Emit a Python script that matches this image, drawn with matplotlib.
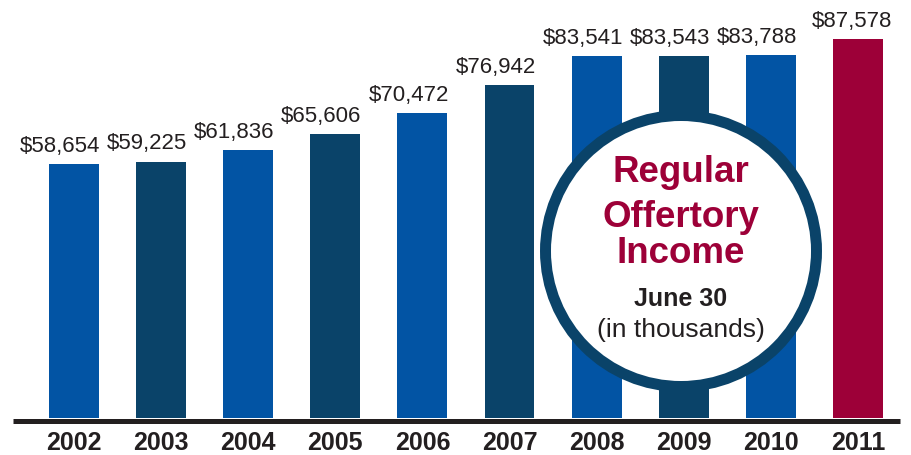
import matplotlib
matplotlib.use("Agg")
import matplotlib.pyplot as plt
from matplotlib.patches import Ellipse
from matplotlib.lines import Line2D

# ── data ─────────────────────────────────────────────────────────────────────
years  = ["2002", "2003", "2004", "2005", "2006", "2007", "2008", "2009", "2010", "2011"]
values = [58654, 59225, 61836, 65606, 70472, 76942, 83541, 83543, 83788, 87578]
labels = ["$58,654", "$59,225", "$61,836", "$65,606", "$70,472",
          "$76,942", "$83,541", "$83,543", "$83,788", "$87,578"]

BLUE   = "#0254A4"
NAVY   = "#0A4369"
MAROON = "#9D0038"
INK    = "#231F20"
colors = [BLUE, NAVY] * 4 + [BLUE, MAROON]

plt.rcParams["font.family"] = ["Liberation Sans", "DejaVu Sans"]

W, H = 912, 456
fig = plt.figure(figsize=(W / 100, H / 100), dpi=100)

# axes spans full width; bottom edge sits on the baseline (pixel 419 from top)
ax = fig.add_axes([0, (H - 419) / H, 1, 419 / H])
step = 87.1
ax.set_xlim(-74 / step, (W - 74) / step)
ax.set_ylim(0, 96800)

x = list(range(len(years)))
bw = 0.574
ax.bar(x, values, width=bw, color=colors, zorder=2)

# value labels hug the right edge of each bar (last one sticks out a bit)
for i, (xi, v, lab) in enumerate(zip(x, values, labels)):
    dx = 7 if i == len(x) - 1 else 1
    ax.annotate(lab, (xi + bw / 2, v), xytext=(dx, 6), textcoords="offset points",
                ha="right", va="bottom", fontsize=16, color=INK)

ax.set_xticks(x)
ax.set_xticklabels(years, fontsize=18, fontweight="bold", color=INK)
ax.tick_params(axis="x", length=0, pad=9)
ax.set_yticks([])
for s in ax.spines.values():
    s.set_visible(False)
ax.patch.set_alpha(0)

# baseline rule
fig.add_artist(Line2D([13 / W, 900 / W], [(H - 421.5) / H] * 2,
                      transform=fig.transFigure, color=INK, lw=3.6,
                      solid_capstyle="butt", zorder=3))

# ── callout circle ───────────────────────────────────────────────────────────
cx, cy, r = 681, 252, 135.5
fig.add_artist(Ellipse((cx / W, (H - cy) / H), 2 * r / W, 2 * r / H,
                       transform=fig.transFigure, facecolor="white",
                       edgecolor=NAVY, lw=7.9, zorder=5))

def ftext(px, py, s, **kw):
    fig.text(px / W, (H - py) / H, s, ha="center", va="baseline", zorder=6, **kw)

ftext(cx, 182, "Regular",  fontsize=26.5, fontweight="bold", color=MAROON)
ftext(cx, 227, "Offertory", fontsize=26.5, fontweight="bold", color=MAROON)
ftext(cx, 263, "Income",   fontsize=26.5, fontweight="bold", color=MAROON)
ftext(cx, 306, "June 30",  fontsize=18, fontweight="bold", color=INK)
ftext(cx, 337, "(in thousands)", fontsize=19, color=INK)

fig.savefig("out.png", dpi=100)
